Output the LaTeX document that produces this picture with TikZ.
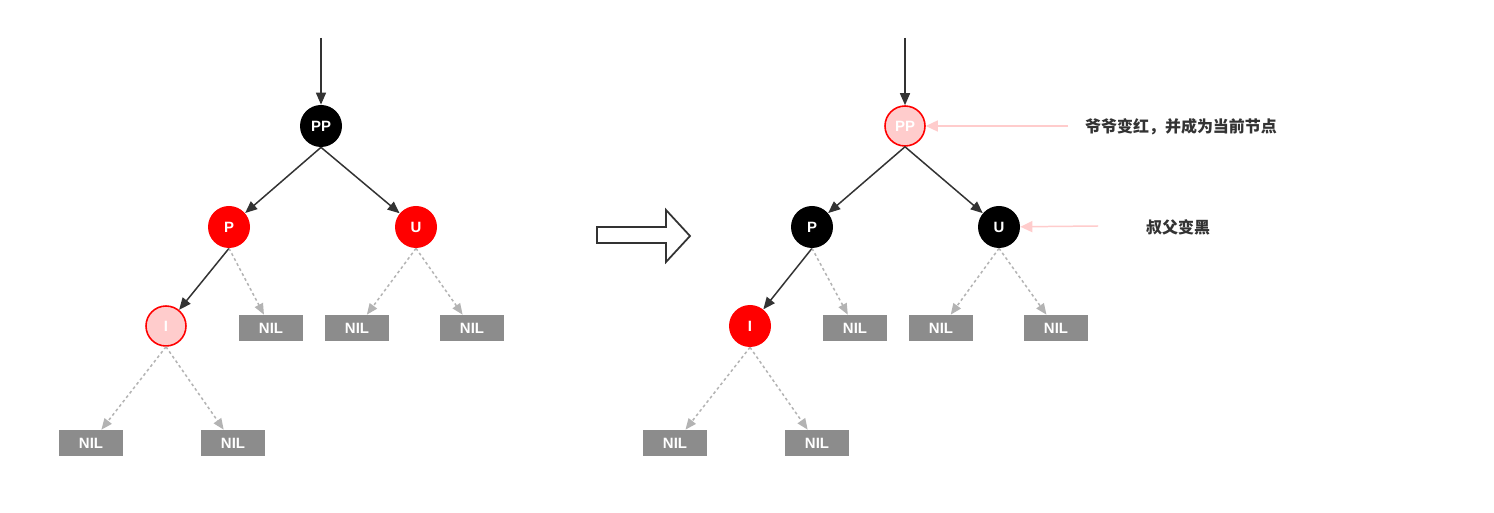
\documentclass[tikz,border=0pt]{standalone}
\usepackage{fontspec}
\setmainfont{Liberation Sans}
\newfontfamily\cjk{Noto Sans CJK SC}
\usepackage{xcolor}
\usetikzlibrary{positioning,arrows.meta}
\definecolor{rbRed}{HTML}{FF0000}
\definecolor{rbPink}{HTML}{FFCCCC}
\definecolor{rbNil}{HTML}{8C8C8C}
\definecolor{rbEdge}{HTML}{333333}
\definecolor{rbDash}{HTML}{B3B3B3}
\tikzset{
  blacknode/.style={circle,fill=black,minimum size=0.84cm,inner sep=0pt,
    text=white,font=\fontsize{8.5}{10}\selectfont\bfseries},
  rednode/.style={circle,fill=rbRed,minimum size=0.84cm,inner sep=0pt,
    text=white,font=\fontsize{8.5}{10}\selectfont\bfseries},
  pinknode/.style={circle,fill=rbPink,draw=rbRed,line width=0.9pt,minimum size=0.8cm,inner sep=0pt,
    text=white,font=\fontsize{8.5}{10}\selectfont\bfseries},
  nilbox/.style={rectangle,fill=rbNil,minimum width=1.28cm,minimum height=0.52cm,inner sep=0pt,
    text=white,font=\fontsize{8.5}{10}\selectfont\bfseries},
  edge/.style={-{Triangle[length=2.4mm,width=2mm]},line width=0.85pt,draw=rbEdge},
  niledge/.style={-{Triangle[length=2.2mm,width=1.8mm]},line width=0.85pt,draw=rbDash,
    dash pattern=on 1.6pt off 1.6pt},
  noteedge/.style={-{Triangle[length=2.4mm,width=2.2mm]},line width=0.85pt,draw=rbPink},
  note/.style={text=rbEdge,font=\cjk\fontsize{9.1}{11}\selectfont\bfseries,inner sep=0pt},
  bigarrow/.style={draw=rbEdge,line width=1pt,fill=white,line join=miter}
}
\begin{document}
\begin{tikzpicture}
  \useasboundingbox[fill=white] (0,0) rectangle (29.88,-10.26);

  % before: uncle is red
  \coordinate (inL) at (6.42,-0.76);
  \node[blacknode] (ppL) at (6.42,-2.52) {PP};
  \node[rednode] (pL) at (4.58,-4.54) {P};
  \node[rednode] (uL) at (8.32,-4.54) {U};
  \node[pinknode] (iL) at (3.32,-6.52) {I};
  \node[nilbox] (nilaL) at (5.42,-6.56) {NIL};
  \node[nilbox] (nilbL) at (7.14,-6.56) {NIL};
  \node[nilbox] (nilcL) at (9.44,-6.56) {NIL};
  \node[nilbox] (nildL) at (1.82,-8.86) {NIL};
  \node[nilbox] (nileL) at (4.66,-8.86) {NIL};

  \draw[edge] (inL) -- (ppL);
  \draw[edge] (ppL.south) -- (pL);
  \draw[edge] (ppL.south) -- (uL);
  \draw[edge] (pL.south) -- (iL);
  \draw[niledge] (pL.south) -- (nilaL);
  \draw[niledge] (uL.south) -- (nilbL);
  \draw[niledge] (uL.south) -- (nilcL);
  \draw[niledge] (iL.south) -- (nildL);
  \draw[niledge] (iL.south) -- (nileL);

  % transition
  \draw[bigarrow] (11.94,-4.54) -- (13.32,-4.54) -- (13.32,-4.20) -- (13.80,-4.72)
    -- (13.32,-5.24) -- (13.32,-4.86) -- (11.94,-4.86) -- cycle;

  % after recolouring
  \coordinate (inR) at (18.10,-0.76);
  \node[pinknode] (ppR) at (18.10,-2.52) {PP};
  \node[blacknode] (pR) at (16.24,-4.54) {P};
  \node[blacknode] (uR) at (19.98,-4.54) {U};
  \node[rednode] (iR) at (15.00,-6.52) {I};
  \node[nilbox] (nilaR) at (17.10,-6.56) {NIL};
  \node[nilbox] (nilbR) at (18.82,-6.56) {NIL};
  \node[nilbox] (nilcR) at (21.12,-6.56) {NIL};
  \node[nilbox] (nildR) at (13.50,-8.86) {NIL};
  \node[nilbox] (nileR) at (16.34,-8.86) {NIL};

  \draw[edge] (inR) -- (ppR);
  \draw[edge] (ppR.south) -- (pR);
  \draw[edge] (ppR.south) -- (uR);
  \draw[edge] (pR.south) -- (iR);
  \draw[niledge] (pR.south) -- (nilaR);
  \draw[niledge] (uR.south) -- (nilbR);
  \draw[niledge] (uR.south) -- (nilcR);
  \draw[niledge] (iR.south) -- (nildR);
  \draw[niledge] (iR.south) -- (nileR);

  % notes
  \node[note] (ppnote) at (23.62,-2.54) {爷爷变红，并成为当前节点};
  \coordinate (ppfrom) at (21.36,-2.52);
  \draw[noteedge] (ppfrom) -- (ppR);
  \node[note] (unote) at (23.56,-4.54) {叔父变黑};
  \coordinate (ufrom) at (21.96,-4.52);
  \draw[noteedge] (ufrom) -- (uR);
\end{tikzpicture}
\end{document}
